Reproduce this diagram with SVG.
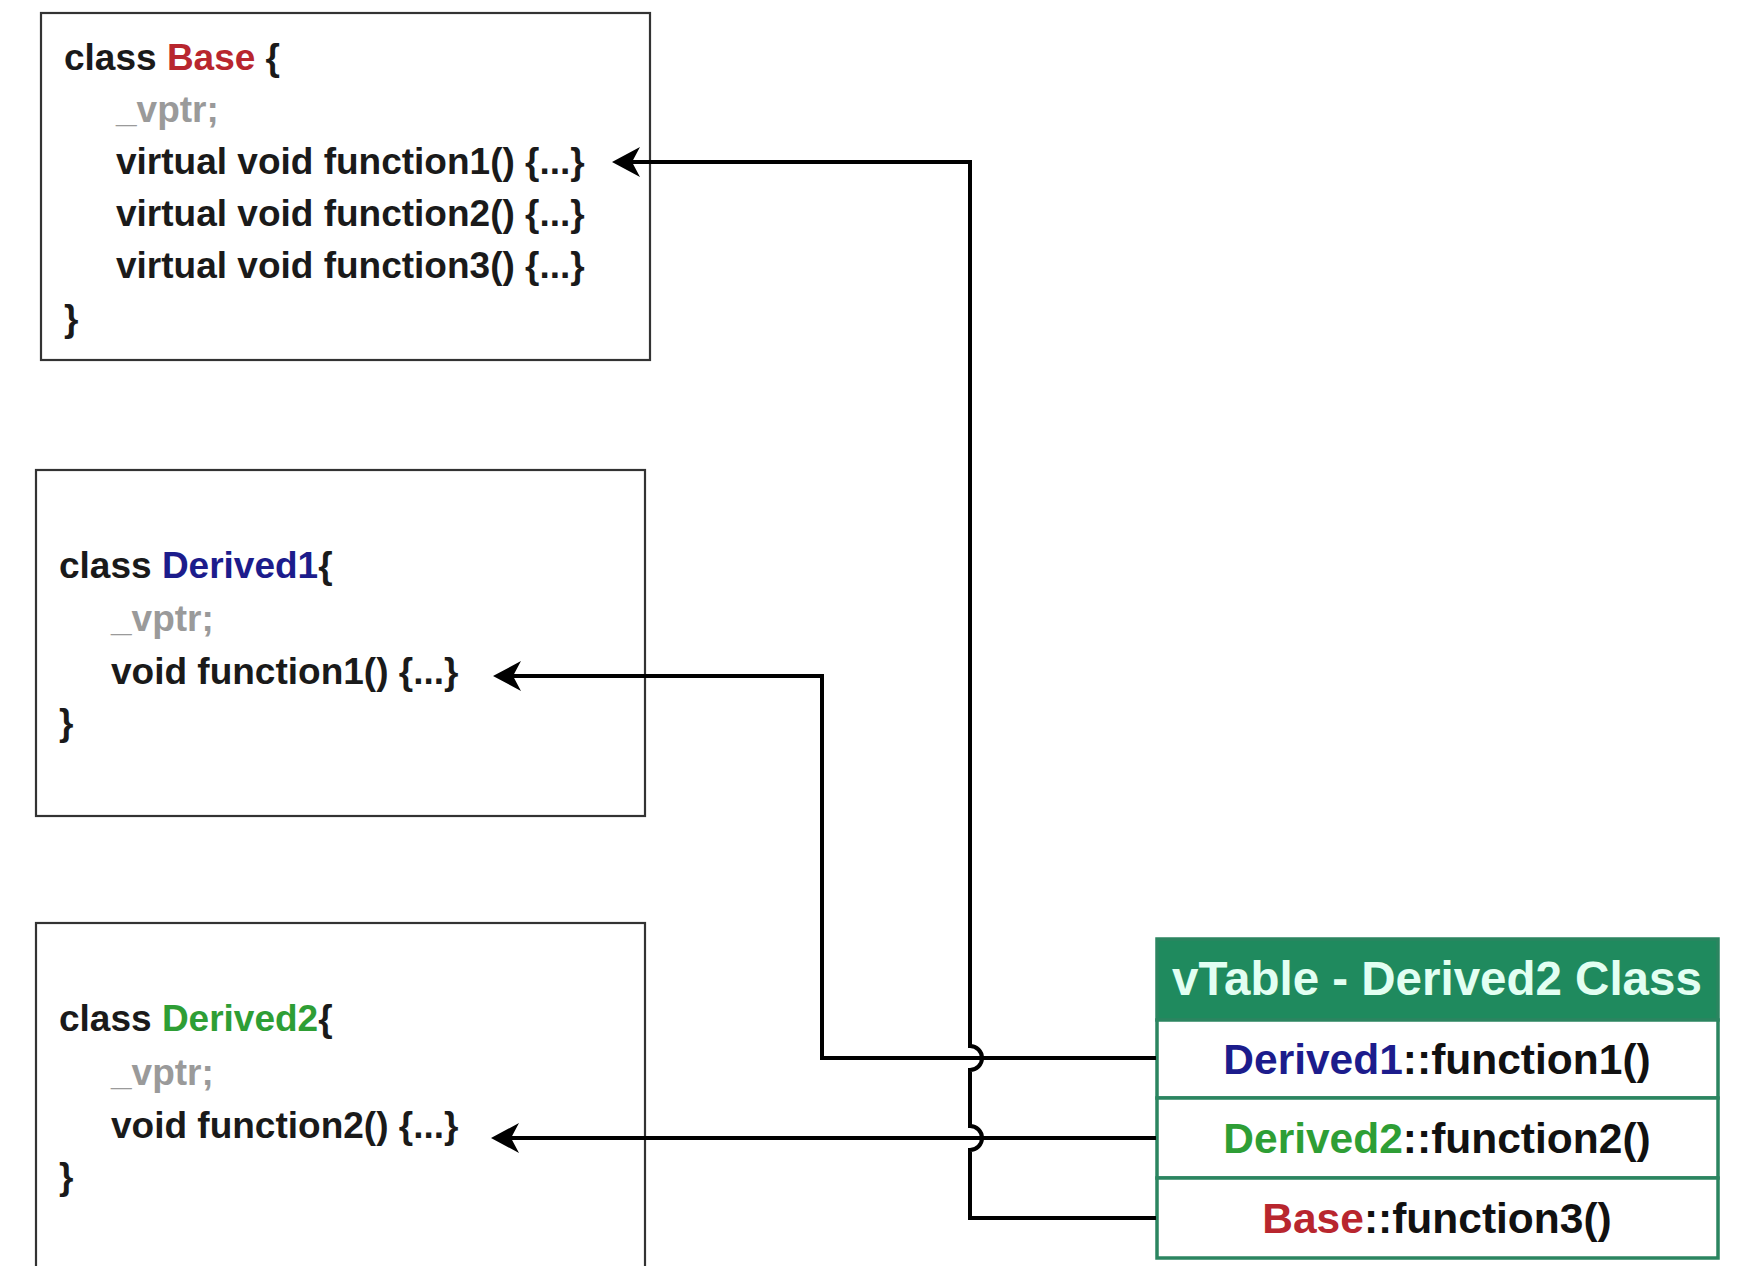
<svg xmlns="http://www.w3.org/2000/svg" width="1737" height="1266" viewBox="0 0 1737 1266">
<style>
.box{fill:#fff;stroke:#333;stroke-width:2.2}
.t{font-family:"Liberation Sans",Arial,sans-serif;font-weight:bold;font-size:37px;fill:#1a1a1a}
.g{fill:#9a9a9a}
.red{fill:#b8262e}
.navy{fill:#1c1c8c}
.green{fill:#2e9e35}
.conn{fill:none;stroke:#000;stroke-width:4}
.vt{fill:#fff;stroke:#2b8560;stroke-width:3.5}
.hdr{fill:#1f8a5e;stroke:#2b8560;stroke-width:3.5}
.ht{font-family:"Liberation Sans",Arial,sans-serif;font-weight:bold;font-size:47.5px;fill:#e2fff2;text-anchor:middle}
.rt{font-family:"Liberation Sans",Arial,sans-serif;font-weight:bold;font-size:42.5px;fill:#111;text-anchor:middle}
</style>
<defs>
<marker id="arr" markerUnits="userSpaceOnUse" viewBox="-10 -16 32 32" markerWidth="32" markerHeight="32" refX="0" refY="0" orient="auto">
<path d="M20,0 L-8,-15 L0,0 L-8,15 Z" fill="#000"/>
</marker>
</defs>
<rect width="1737" height="1266" fill="#fff"/>
<g id="base">
<rect class="box" x="41" y="13" width="609" height="347"/>
<text class="t" x="64" y="70">class <tspan class="red">Base</tspan> {</text>
<text class="t g" x="116" y="122">_vptr;</text>
<text class="t" x="116" y="174">virtual void function1() {...}</text>
<text class="t" x="116" y="226">virtual void function2() {...}</text>
<text class="t" x="116" y="278">virtual void function3() {...}</text>
<text class="t" x="64" y="331">}</text>
</g>
<g id="derived1">
<rect class="box" x="36" y="470" width="609" height="346"/>
<text class="t" x="59" y="578">class <tspan class="navy">Derived1</tspan>{</text>
<text class="t g" x="111" y="631">_vptr;</text>
<text class="t" x="111" y="684">void function1() {...}</text>
<text class="t" x="59" y="735">}</text>
</g>
<g id="derived2">
<rect class="box" x="36" y="923" width="609" height="370"/>
<text class="t" x="59" y="1031">class <tspan class="green">Derived2</tspan>{</text>
<text class="t g" x="111" y="1085">_vptr;</text>
<text class="t" x="111" y="1138">void function2() {...}</text>
<text class="t" x="59" y="1189">}</text>
</g>
<g id="vtable">
<rect class="hdr" x="1157" y="939" width="561" height="81"/>
<text class="ht" x="1437" y="995">vTable - Derived2 Class</text>
<rect class="vt" x="1157" y="1020" width="561" height="78"/>
<text class="rt" x="1437" y="1074"><tspan class="navy">Derived1</tspan>::function1()</text>
<rect class="vt" x="1157" y="1098" width="561" height="80"/>
<text class="rt" x="1437" y="1153"><tspan class="green">Derived2</tspan>::function2()</text>
<rect class="vt" x="1157" y="1178" width="561" height="80"/>
<text class="rt" x="1437" y="1233"><tspan class="red">Base</tspan>::function3()</text>
</g>
<g id="connectors">
<path class="conn" d="M1156,1218 H970 V1150 A12,12 0 0 0 970,1126 V1070 A12,12 0 0 0 970,1046 V162 H632" marker-end="url(#arr)"/>
<path class="conn" d="M1156,1058 H822 V676 H513" marker-end="url(#arr)"/>
<path class="conn" d="M1156,1138 H511" marker-end="url(#arr)"/>
</g>
</svg>
